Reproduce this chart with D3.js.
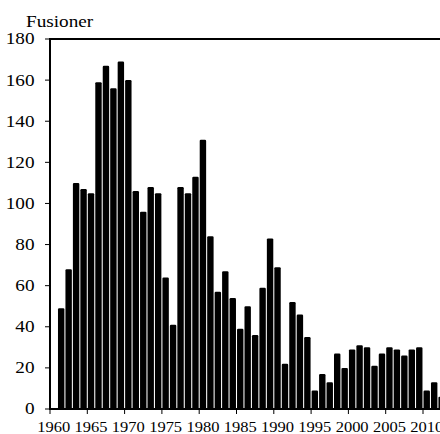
<!DOCTYPE html>
<html>
<head>
<meta charset="utf-8">
<script src="https://cdn.jsdelivr.net/npm/d3@7"></script>
<style>
  body { margin: 0; background: #fff; }
</style>
</head>
<body>
<div id="chart"></div>
<script>
// years on the category axis (1960 has no bar)
var years = [1960, 1961, 1962, 1963, 1964, 1965, 1966, 1967, 1968, 1969,
  1970, 1971, 1972, 1973, 1974, 1975, 1976, 1977, 1978, 1979,
  1980, 1981, 1982, 1983, 1984, 1985, 1986, 1987, 1988, 1989,
  1990, 1991, 1992, 1993, 1994, 1995, 1996, 1997, 1998, 1999,
  2000, 2001, 2002, 2003, 2004, 2005, 2006, 2007, 2008, 2009,
  2010, 2011, 2012, 2013];

// number of mergers per year
var fusioner = [null, 49, 68, 110, 107, 105, 159, 167, 156, 169,
  160, 106, 96, 108, 105, 64, 41, 108, 105, 113,
  131, 84, 57, 67, 54, 39, 50, 36, 59, 83,
  69, 22, 52, 46, 35, 9, 17, 13, 27, 20,
  29, 31, 30, 21, 27, 30, 29, 26, 29, 30,
  9, 13, 6, null];

var yTicks = [0, 20, 40, 60, 80, 100, 120, 140, 160, 180];
var xLabels = [1960, 1965, 1970, 1975, 1980, 1985, 1990, 1995, 2000, 2005, 2010];

var w = 440, h = 434,
  plotLeft = 50, plotTop = 39, plotBottom = 409,
  step = 7.46,
  serif = "'Liberation Serif', 'Times New Roman', Times, serif";

var svg = d3.select("#chart").append("svg")
  .attr("width", w)
  .attr("height", h)
  .attr("font-family", serif);

var x = d3.scaleBand()
  .domain(years)
  .range([plotLeft, plotLeft + years.length * step])
  .paddingInner(0.14)
  .paddingOuter(0.07);

var y = d3.scaleLinear()
  .domain([0, 180])
  .range([plotBottom, plotTop]);

var data = years.map(function(d, i){ return {year: d, value: fusioner[i]}; })
  .filter(function(d){ return d.value != null; });

// bars
svg.append("g").selectAll("rect")
  .data(data)
  .enter().append("rect")
    .attr("x", function(d){ return x(d.year); })
    .attr("y", function(d){ return y(d.value); })
    .attr("width", x.bandwidth())
    .attr("height", function(d){ return plotBottom - y(d.value); })
    .attr("rx", 1.2)
    .attr("fill", "#000");

// frame: left axis and top line
svg.append("line")
  .attr("x1", plotLeft).attr("x2", plotLeft)
  .attr("y1", plotTop - 1).attr("y2", plotBottom + 1)
  .attr("stroke", "#000").attr("stroke-width", 2);

svg.append("line")
  .attr("x1", plotLeft - 1).attr("x2", w)
  .attr("y1", plotTop).attr("y2", plotTop)
  .attr("stroke", "#000").attr("stroke-width", 2);

// x axis line
svg.append("line")
  .attr("x1", plotLeft).attr("x2", w)
  .attr("y1", plotBottom).attr("y2", plotBottom)
  .attr("stroke", "#000").attr("stroke-width", 2);

// y ticks + labels
var yg = svg.append("g");
yg.selectAll("line")
  .data(yTicks)
  .enter().append("line")
    .attr("x1", plotLeft - 5).attr("x2", plotLeft)
    .attr("y1", function(d){ return y(d); })
    .attr("y2", function(d){ return y(d); })
    .attr("stroke", "#000").attr("stroke-width", 1);

yg.selectAll("g")
  .data(yTicks)
  .enter().append("g")
    .attr("transform", function(d){ return "translate(" + 34.5 + "," + y(d) + ") scale(1.2,1)"; })
  .append("text")
    .attr("text-anchor", "end")
    .attr("dy", "0.34em")
    .attr("font-size", 16)
    .text(function(d){ return d; });

// x ticks every 5 years, at category boundaries
var xg = svg.append("g");
xg.selectAll("line")
  .data(xLabels)
  .enter().append("line")
    .attr("x1", function(d){ return x(d) - x.step() * 0.07; })
    .attr("x2", function(d){ return x(d) - x.step() * 0.07; })
    .attr("y1", plotBottom).attr("y2", plotBottom + 5)
    .attr("stroke", "#000").attr("stroke-width", 1);

xg.selectAll("g")
  .data(xLabels)
  .enter().append("g")
    .attr("transform", function(d){ return "translate(" + (x(d) + x.bandwidth() / 2) + "," + 431.5 + ") scale(1.1,1)"; })
  .append("text")
    .attr("text-anchor", "middle")
    .attr("font-size", 15)
    .text(function(d){ return d; });

// axis title
svg.append("g")
  .attr("transform", "translate(" + 26 + "," + 26.5 + ") scale(1.2,1)")
  .append("text")
    .attr("font-size", 16)
    .text("Fusioner");
</script>
</body>
</html>
